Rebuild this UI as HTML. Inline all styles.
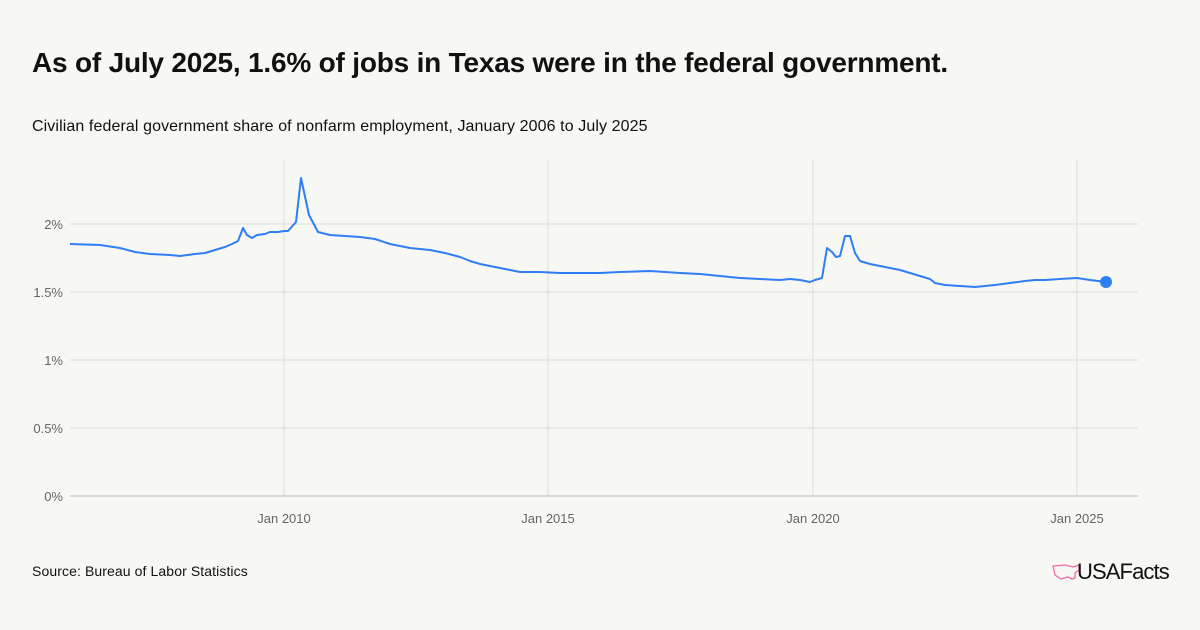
<!DOCTYPE html>
<html><head><meta charset="utf-8"><style>
body{margin:0;width:1200px;height:630px;background:#f7f7f3;font-family:"Liberation Sans",sans-serif;color:#111;overflow:hidden;position:relative}
.t{position:absolute;left:32px;top:47px;font-size:28px;font-weight:bold;letter-spacing:-0.2px}
.s{position:absolute;left:32px;top:118px;font-size:16px;letter-spacing:0.1px}
.src{position:absolute;left:32px;top:563px;font-size:14px;letter-spacing:0.1px}
.logo{position:absolute;left:1077px;top:559px;font-size:22px;font-weight:500;letter-spacing:-0.9px}
</style></head><body>
<div class="t">As of July 2025, 1.6% of jobs in Texas were in the federal government.</div>
<div class="s">Civilian federal government share of nonfarm employment, January 2006 to July 2025</div>
<svg width="1200" height="630" style="position:absolute;left:0;top:0">
<g stroke="#dcdcd8" stroke-width="1">
<line x1="70" x2="1138" y1="224" y2="224"/><line x1="70" x2="1138" y1="292" y2="292"/>
<line x1="70" x2="1138" y1="360" y2="360"/><line x1="70" x2="1138" y1="428" y2="428"/>
<line x1="284" x2="284" y1="160" y2="496"/><line x1="548" x2="548" y1="160" y2="496"/>
<line x1="813" x2="813" y1="160" y2="496"/><line x1="1077" x2="1077" y1="160" y2="496"/>
</g>
<line x1="70" x2="1138" y1="496" y2="496" stroke="#bbb"/>
<g font-size="13" fill="#666" font-family="Liberation Sans,sans-serif" text-anchor="end">
<text x="63" y="229">2%</text><text x="63" y="297">1.5%</text><text x="63" y="365">1%</text><text x="63" y="433">0.5%</text><text x="63" y="501">0%</text>
</g>
<g font-size="13" fill="#666" font-family="Liberation Sans,sans-serif" text-anchor="middle">
<text x="284" y="523">Jan 2010</text><text x="548" y="523">Jan 2015</text><text x="813" y="523">Jan 2020</text><text x="1077" y="523">Jan 2025</text>
</g>
<polyline fill="none" stroke="#2f7ef5" stroke-width="2" stroke-linejoin="round" points="70,244 100,245 120,248 135,252 150,254 170,255 180,256 195,254 205,253 215,250 225,247 232,244 238,241 243,228 247,235 252,238 257,235 265,234 270,232 278,232 284,231 288,231 296,222 301,178 309,215 318,232 330,235 345,236 360,237 375,239 390,244 410,248 430,250 445,253 460,257 470,261 480,264 490,266 500,268 510,270 520,272 540,272 560,273 580,273 600,273 620,272 650,271 680,273 700,274 720,276 740,278 760,279 780,280 790,279 800,280 810,282 815,280 822,278 827,248 832,252 836,257 840,256 845,236 850,236 855,253 860,261 870,264 880,266 890,268 900,270 910,273 920,276 930,279 935,283 945,285 960,286 975,287 985,286 995,285 1010,283 1025,281 1035,280 1045,280 1060,279 1077,278 1090,280 1106,282"/>
<circle cx="1106" cy="282" r="6" fill="#2f7ef5"/>
<path d="M1053 566 l12 -1 l8 2 l6 -2 l0 5 l-4 3 l0 5 l-3 1 l-4 -2 l-7 2 l-6 -4 z" fill="none" stroke="#f06aa8" stroke-width="1.3"/>
</svg>
<div class="src">Source: Bureau of Labor Statistics</div>
<div class="logo">USAFacts</div>
</body></html>
